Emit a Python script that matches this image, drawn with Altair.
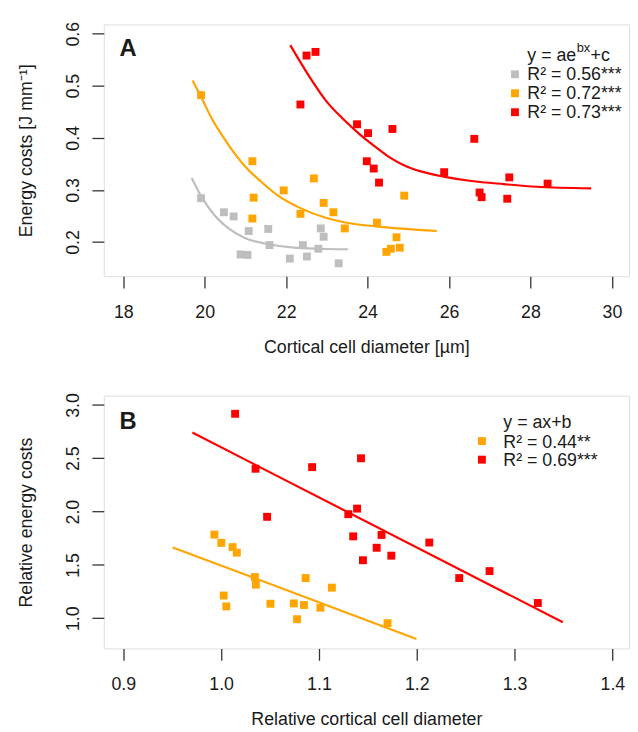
import altair as alt
import pandas as pd

FONT = "Liberation Sans"
TXT = "#1a1a1a"
FRAME = "#333333"
GRAY, ORANGE, RED = "#BEBEBE", "#FFA500", "#FF0000"

# ---------------- Panel A data ----------------
a_gray_x = [19.91, 20.47, 20.71, 21.08, 21.56, 20.88, 21.05, 21.59, 22.09, 22.41, 22.51, 22.79, 22.85, 22.92, 23.29]
a_gray_y = [0.284, 0.257, 0.249, 0.221, 0.225, 0.176, 0.175, 0.194, 0.168, 0.194, 0.172, 0.187, 0.226, 0.210, 0.159]
a_orange_x = [19.91, 21.17, 21.20, 21.17, 21.94, 22.35, 22.68, 22.92, 23.16, 23.44, 24.90, 24.23, 24.71, 24.79, 24.57, 24.46]
a_orange_y = [0.482, 0.355, 0.285, 0.245, 0.299, 0.254, 0.322, 0.275, 0.257, 0.226, 0.289, 0.237, 0.209, 0.189, 0.187, 0.181]
a_red_x = [22.50, 22.72, 22.35, 23.74, 24.01, 24.61, 23.98, 24.15, 24.28, 26.62, 25.88, 27.48, 26.75, 26.80, 27.43, 28.42]
a_red_y = [0.558, 0.565, 0.464, 0.426, 0.409, 0.417, 0.355, 0.341, 0.314, 0.398, 0.334, 0.324, 0.295, 0.286, 0.283, 0.312]

# fitted curves (y = a e^{bx} + c)
a_gray_cx = [19.68, 19.92, 20.16, 20.57, 20.97, 21.54, 22.19, 22.83, 23.52]
a_gray_cy = [0.323, 0.287, 0.259, 0.227, 0.208, 0.196, 0.189, 0.187, 0.186]
a_orange_cx = [19.70, 19.92, 20.16, 20.57, 20.97, 21.38, 21.78, 22.35, 22.99, 23.64, 24.20, 25.70]
a_orange_cy = [0.510, 0.477, 0.439, 0.388, 0.347, 0.316, 0.290, 0.265, 0.246, 0.235, 0.230, 0.221]
a_red_cx = [22.10, 22.59, 22.99, 23.40, 23.80, 24.20, 24.53, 24.93, 25.33, 25.90, 26.55, 27.35, 28.16, 29.49]
a_red_cy = [0.578, 0.515, 0.470, 0.436, 0.407, 0.382, 0.363, 0.346, 0.335, 0.325, 0.317, 0.311, 0.306, 0.303]

a_legend_title = "y = ae"
a_legend_sup = "bx"
a_legend_tail = "+c"
a_legend_rows = ["R² = 0.56***", "R² = 0.72***", "R² = 0.73***"]
a_xticks = [18, 20, 22, 24, 26, 28, 30]
a_yticks = [0.2, 0.3, 0.4, 0.5, 0.6]

# ---------------- Panel B data ----------------
b_orange_x = [0.9931, 1.0002, 1.0117, 1.0160, 1.0345, 1.0355, 1.0026, 1.0053, 1.0504, 1.0743, 1.0847, 1.0776, 1.0864, 1.1015, 1.1132, 1.1701]
b_orange_y = [1.784, 1.707, 1.667, 1.615, 1.386, 1.315, 1.213, 1.111, 1.136, 1.139, 1.124, 0.991, 1.377, 1.099, 1.287, 0.954]
b_red_x = [1.0143, 1.0352, 1.0930, 1.1430, 1.0470, 1.1300, 1.1390, 1.1350, 1.1450, 1.1640, 1.1590, 1.1740, 1.2128, 1.2434, 1.2744, 1.3238]
b_red_y = [2.917, 2.402, 2.417, 2.500, 1.951, 1.976, 2.028, 1.768, 1.544, 1.781, 1.661, 1.587, 1.710, 1.377, 1.442, 1.143]
b_orange_lx = [0.9505, 1.1997]
b_orange_ly = [1.664, 0.806]
b_red_lx = [0.9706, 1.3493]
b_red_ly = [2.741, 0.963]

b_legend_title = "y = ax+b"
b_legend_rows = ["R² = 0.44**", "R² = 0.69***"]
b_xticks = [0.9, 1.0, 1.1, 1.2, 1.3, 1.4]
b_yticks = [1.0, 1.5, 2.0, 2.5, 3.0]

groups = ["gray", "orange", "red"]
colors = [GRAY, ORANGE, RED]


def df_pts(pairs):
    rows = []
    for g, xs, ys in pairs:
        for i, (x, y) in enumerate(zip(xs, ys)):
            rows.append({"g": g, "x": x, "y": y, "i": i})
    return pd.DataFrame(rows)


color_enc = alt.Color("g:N", scale=alt.Scale(domain=groups, range=colors), legend=None)


def axis_x(vals, fmt):
    return alt.Axis(values=vals, format=fmt, domain=False, grid=False, tickSize=12,
                    tickColor=FRAME, tickWidth=1.3, labelFont=FONT, labelFontSize=18,
                    labelColor=TXT, labelPadding=15.5, labelFlush=False, labelOverlap=False,
                    titleFont=FONT, titleFontSize=18, titleFontWeight="normal",
                    titleColor=TXT, titlePadding=17.5)


def axis_y(vals, fmt):
    return alt.Axis(values=vals, format=fmt, domain=False, grid=False, tickSize=12,
                    tickColor=FRAME, tickWidth=1.3, labelFont=FONT, labelFontSize=18,
                    labelColor=TXT, labelPadding=10, labelAngle=270, labelAlign="center",
                    labelBaseline="bottom", labelFlush=False, labelOverlap=False,
                    titleFont=FONT, titleFontSize=18, titleFontWeight="normal",
                    titleColor=TXT, titlePadding=29)


def text_mark(s, px, py, size=18, weight="normal"):
    return alt.Chart(pd.DataFrame({"t": [s]})).mark_text(
        align="left", baseline="alphabetic", font=FONT, fontSize=size,
        fontWeight=weight, color=TXT).encode(x=alt.value(px), y=alt.value(py), text="t:N")


def legend_square(col, px, py):
    return alt.Chart(pd.DataFrame({"t": [0]})).mark_square(
        size=64, color=col, opacity=1).encode(x=alt.value(px), y=alt.value(py))


def panel(pts, lines, xdom, ydom, xvals, yvals, xfmt, yfmt, xtitle, ytitle, extras, h):
    xs = alt.Scale(domain=xdom, nice=False, zero=False)
    ys = alt.Scale(domain=ydom, nice=False, zero=False)
    p = alt.Chart(pts).mark_square(size=64, opacity=1).encode(
        x=alt.X("x:Q", scale=xs, axis=axis_x(xvals, xfmt), title=xtitle),
        y=alt.Y("y:Q", scale=ys, axis=axis_y(yvals, yfmt), title=ytitle),
        color=color_enc)
    l = alt.Chart(lines).mark_line(strokeWidth=2.2, interpolate="monotone").encode(
        x=alt.X("x:Q", scale=xs), y=alt.Y("y:Q", scale=ys), color=color_enc,
        detail="g:N", order="i:Q")
    return alt.layer(p, l, *extras).properties(width=532, height=h)


# ---- Panel A
ptsA = df_pts([("gray", a_gray_x, a_gray_y), ("orange", a_orange_x, a_orange_y), ("red", a_red_x, a_red_y)])
linA = df_pts([("gray", a_gray_cx, a_gray_cy), ("orange", a_orange_cx, a_orange_cy), ("red", a_red_cx, a_red_cy)])
lx = 429
extrasA = [
    text_mark("A", 16, 32, size=24, weight="bold"),
    text_mark(a_legend_title, lx, 37.5),
    text_mark(a_legend_sup, lx + 50, 28, size=13),
    text_mark(a_legend_tail, lx + 64, 37.5),
]
for k, (row, col) in enumerate(zip(a_legend_rows, colors)):
    extrasA.append(text_mark(row, lx, 56 + 19.2 * k))
    extrasA.append(legend_square(col, 416.5, 50.5 + 19.2 * k))
chartA = panel(ptsA, linA, [17.52, 30.42], [0.1342, 0.6177], a_xticks, a_yticks, "d", ".1f",
               "Cortical cell diameter [µm]", "Energy costs [J mm⁻¹]", extrasA, 255)

# ---- Panel B
ptsB = df_pts([("orange", b_orange_x, b_orange_y), ("red", b_red_x, b_red_y)])
linB = df_pts([("orange", b_orange_lx, b_orange_ly), ("red", b_red_lx, b_red_ly)])
lxb = 404.7
extrasB = [
    text_mark("B", 16, 33.5, size=24, weight="bold"),
    text_mark(b_legend_title, lxb, 33),
]
for k, (row, col) in enumerate(zip(b_legend_rows, [ORANGE, RED])):
    extrasB.append(text_mark(row, lxb, 52.5 + 18.8 * k))
    extrasB.append(legend_square(col, 383, 46 + 18.8 * k))
chartB = panel(ptsB, linB, [0.880, 1.417], [0.717, 3.087], b_xticks, b_yticks, ".1f", ".1f",
               "Relative cortical cell diameter", "Relative energy costs", extrasB, 256)

chart = alt.vconcat(chartA, chartB, spacing=35).properties(
    padding={"left": 9, "top": 8, "right": 0, "bottom": 0}
).configure_view(stroke=FRAME, strokeWidth=1.5).configure(background="white")

chart.save("out.html", embed_options={"renderer": "svg", "actions": False})
